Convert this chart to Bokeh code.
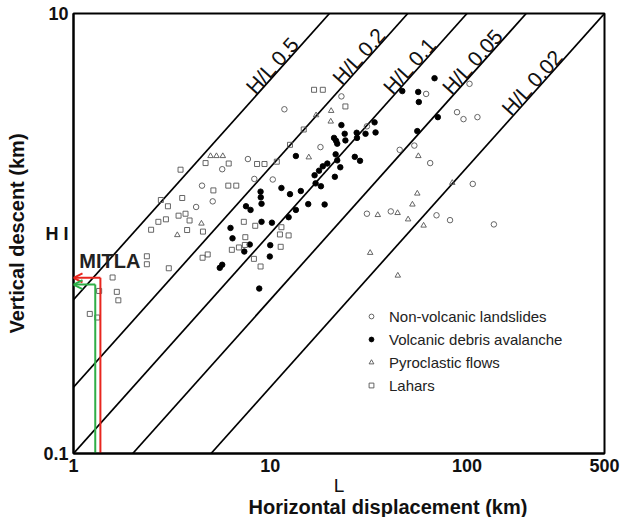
import numpy as np
from bokeh.plotting import figure
from bokeh.models import (FixedTicker, Label, Legend, LegendItem, Arrow, OpenHead, Range1d, Title)
from bokeh.core.properties import value
from bokeh.embed import file_html
from bokeh.resources import INLINE

FONT = "Liberation Sans"

# ---- data (L = horizontal displacement km, H = vertical descent km) ----
nv_L = [11.8, 23.0, 18.0, 7.7, 5.7, 4.5, 5.1, 4.2, 8.3, 10.3, 62, 103, 89, 96, 113,
        31, 45.5, 54, 65, 107, 31, 41, 70, 82, 137]
nv_H = [3.67, 4.20, 2.47, 2.18, 1.96, 1.65, 1.40, 1.32, 1.77, 1.76, 4.31, 4.79, 3.56, 3.31, 3.38,
        3.07, 2.40, 2.51, 2.09, 1.68, 1.23, 1.26, 1.21, 1.15, 1.10]

vd_L = [68.4, 46.9, 56.5, 56.9, 71.1, 55.9, 33.9, 34.3, 30.5, 27.5,
        27.6, 23.0, 23.9, 21.1, 21.6, 21.9, 24.1, 13.5, 21.5, 21.9,
        19.5, 18.5, 17.7, 16.8, 22.7, 21.3, 26.9, 28.6, 17.0, 18.1,
        15.6, 18.9, 14.3, 12.6, 11.4, 8.93, 8.95, 9.03, 7.53, 7.94,
        13.5, 12.4, 9.03, 10.2, 6.28, 6.43, 7.87, 7.38, 10.0, 9.95,
        5.70, 5.54, 8.79]
vd_H = [5.08, 4.44, 4.40, 3.96, 3.38, 2.92, 3.20, 2.88, 2.84, 2.87,
        2.72, 3.11, 2.84, 2.72, 2.64, 2.56, 2.65, 2.25, 2.29, 2.15,
        2.08, 2.02, 1.93, 1.84, 2.00, 1.81, 2.23, 2.14, 1.69, 1.64,
        1.36, 1.355, 1.56, 1.51, 1.61, 1.55, 1.46, 1.365, 1.33, 1.28,
        1.28, 1.186, 1.13, 1.12, 1.06, 0.951, 0.891, 0.828, 0.885, 0.786,
        0.721, 0.698, 0.562]

pf_L = [4.97, 5.33, 5.74, 20.4, 20.3, 17.1, 15.7, 4.47, 3.37, 56.6, 84.2, 55.9, 52.8,
        50.2, 60.2, 35.2, 44.4, 32.2, 44.5]
pf_H = [2.25, 2.25, 2.25, 3.61, 3.23, 3.45, 2.22, 1.11, 0.984, 2.25, 1.70, 1.52, 1.355,
        1.16, 1.087, 1.214, 1.24, 0.817, 0.644]

lh_L = [3.50, 4.69, 6.15, 2.78, 3.02, 3.57, 2.70, 2.95, 3.42, 3.71,
        3.89, 2.48, 3.78, 4.55, 5.14, 6.12, 6.72, 8.57, 9.35, 10.8,
        12.6, 14.8, 16.7, 18.5, 24.1, 7.34, 8.39, 11.4, 11.2, 12.4,
        7.47, 6.38, 6.93, 7.43, 11.3, 8.26, 8.93, 2.36, 2.36, 3.05,
        4.53, 4.81, 1.58, 1.35, 1.66, 1.69, 1.21, 1.32]
lh_H = [1.95, 2.09, 2.08, 1.42, 1.33, 1.45, 1.13, 1.16, 1.205, 1.23,
        1.146, 1.04, 1.037, 1.02, 1.57, 1.65, 1.65, 2.07, 2.07, 2.12,
        2.53, 2.97, 4.50, 4.50, 3.78, 1.13, 1.084, 1.068, 0.99, 0.98,
        0.962, 0.843, 0.864, 0.887, 0.870, 0.767, 0.708, 0.788, 0.725, 0.695,
        0.776, 0.803, 0.631, 0.548, 0.543, 0.497, 0.431, 0.415]

ratios = [0.5, 0.2, 0.1, 0.05, 0.02]
ratio_labels = ["H/L 0.5", "H/L 0.2", "H/L 0.1", "H/L 0.05", "H/L 0.02"]
ratio_label_L = [11.0, 30.3, 54.8, 114.5, 230.0]

mitla_L = [1.37, 1.29]
mitla_H = [0.629, 0.586]
mitla_colors = ["#e8261e", "#2fae47"]

x_ticks = [1, 10, 100, 500]
x_tick_labels = ["1", "10", "100", "500"]
y_ticks = [0.1, 1, 10]
y_tick_labels = ["0.1", "H I", "10"]

legend_labels = ["Non-volcanic landslides", "Volcanic debris avalanche",
                 "Pyroclastic flows", "Lahars"]

# ---- figure ----
FW, FH = 531, 440
p = figure(frame_width=FW, frame_height=FH, x_axis_type="log", y_axis_type="log",
           x_range=Range1d(1, 500), y_range=Range1d(0.1, 10),
           output_backend="svg", toolbar_location=None,
           min_border_left=73, min_border_right=21, min_border_top=13, min_border_bottom=0,
           background_fill_color="white", border_fill_color="white")
p.grid.visible = False
p.outline_line_color = "black"
p.outline_line_width = 2

p.xaxis.ticker = FixedTicker(ticks=x_ticks, minor_ticks=[])
p.yaxis.ticker = FixedTicker(ticks=y_ticks, minor_ticks=[])
p.xaxis.major_label_overrides = {t: s for t, s in zip(x_ticks, x_tick_labels)}
p.yaxis.major_label_overrides = {t: s for t, s in zip(y_ticks, y_tick_labels)}
p.xaxis.axis_label = "L"
p.yaxis.axis_label = "Vertical descent (km)"
for ax in (p.xaxis[0], p.yaxis[0]):
    ax.major_tick_in = 0
    ax.major_tick_out = 0
    ax.minor_tick_in = 0
    ax.minor_tick_out = 0
    ax.axis_line_width = 2
    ax.axis_line_color = "black"
    ax.major_label_text_font = FONT
    ax.major_label_text_font_size = "18px"
    ax.major_label_text_font_style = "bold"
    ax.major_label_text_color = "#111111"
    ax.major_label_standoff = 5
    ax.axis_label_text_font = FONT
    ax.axis_label_text_color = "#111111"
p.yaxis.axis_label_text_font_size = "20px"
p.yaxis.axis_label_text_font_style = "bold"
p.yaxis.axis_label_standoff = 12
p.xaxis.axis_label_text_font_size = "19px"
p.xaxis.axis_label_text_font_style = "normal"
p.xaxis.axis_label_standoff = 0

p.add_layout(Title(text="Horizontal displacement (km)", align="left", offset=175,
                   vertical_align="top",
                   text_font=FONT, text_font_size="20px", text_font_style="bold",
                   text_color="#111111", standoff=-5), "below")

# ---- H/L reference lines ----
r = np.array(ratios)
x0 = np.maximum(1.0, 0.1 / r)
x1 = np.minimum(500.0, 10.0 / r)
p.segment(x0=x0, y0=x0 * r, x1=x1, y1=x1 * r, line_color="black", line_width=1.7)

ang = float(np.arctan((FH / 2.0) / (FW / np.log10(500.0))))
gap = 8.0
lbl_L = np.array(ratio_label_L)
p.text(x=lbl_L, y=lbl_L * r, text=ratio_labels, angle=ang,
       text_align="center", text_baseline="middle",
       x_offset=-np.sin(ang) * gap, y_offset=-np.cos(ang) * gap,
       text_font=value(FONT), text_font_size="21px", text_color="#111111")

# ---- data points ----
r_nv = p.scatter(nv_L, nv_H, marker="circle", size=5.5, fill_color=None,
                 line_color="#555555", line_width=0.9)
r_vd = p.scatter(vd_L, vd_H, marker="circle", size=5.5, fill_color="black",
                 line_color="black", line_width=0.9)
r_pf = p.scatter(pf_L, pf_H, marker="triangle", size=5.5, fill_color=None,
                 line_color="#555555", line_width=0.9)
r_lh = p.scatter(lh_L, lh_H, marker="square", size=5, fill_color=None,
                 line_color="#555555", line_width=0.9)

legend = Legend(items=[LegendItem(label=legend_labels[0], renderers=[r_nv]),
                       LegendItem(label=legend_labels[1], renderers=[r_vd]),
                       LegendItem(label=legend_labels[2], renderers=[r_pf]),
                       LegendItem(label=legend_labels[3], renderers=[r_lh])],
                location=(292, 58), orientation="vertical",
                glyph_width=12, glyph_height=12, label_standoff=12, spacing=3,
                padding=0, margin=0, border_line_alpha=0, background_fill_alpha=0,
                label_text_font=FONT, label_text_font_size="15px", label_height=20,
                label_text_color="#222222")
p.add_layout(legend)

# ---- MITLA ----
p.segment(x0=mitla_L, y0=[0.1, 0.1], x1=mitla_L, y1=mitla_H,
          line_color=mitla_colors, line_width=2)
for L, H, c in zip(mitla_L, mitla_H, mitla_colors):
    p.add_layout(Arrow(end=OpenHead(size=9, line_color=c, line_width=2),
                       x_start=L, y_start=H, x_end=1.0, y_end=H,
                       line_color=c, line_width=2))
p.add_layout(Label(x=1.07, y=0.748, text="MITLA", text_font=FONT,
                   text_font_style="bold", text_font_size="20px",
                   text_baseline="middle", text_align="left", text_color="#222222"))

open("out.html", "w").write(file_html(p, INLINE))
